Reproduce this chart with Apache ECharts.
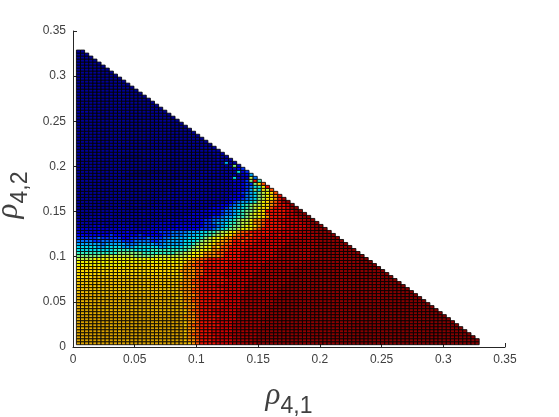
<!DOCTYPE html>
<html>
<head>
<meta charset="utf-8">
<style>html,body{margin:0;padding:0;background:#fff}#chart{width:559px;height:417px}</style>
<script src="https://cdn.jsdelivr.net/npm/echarts@6/dist/echarts.min.js"></script>
</head>
<body>
<div id="chart"></div>
<script>
// axis ticks
var tickStep = 0.05;
var axisMax = 0.35;

// heat cell grid: lower left corner of first cell, size of a cell
var cellStartX = 0.00275;
var cellStartY = 0.00255;
var cellSize = 0.00333;

// colour levels, a = lowest, y = highest
var levelNames = 'abcdefghijklmnopqrstuvwxy';
var levelColors = ['#000080','#000098','#0000aa','#0000cc','#0000f0','#0030ff','#0070ff','#00a8ff','#00dcf0','#30f0c0','#80f080','#c0f040','#f0f000','#ffdc00','#f4c400','#e8b000','#d8a000','#ff9000','#ff5000','#f01000','#d00000','#a80000','#900000','#880000','#5c0000'];

// one string per row, bottom row first. letter = level, number = how many cells in a run
var rowLevels = [
'q26porst4u4v6w20x34',
'q12pq13orrst3u5v5w21x34',
'q26prrst4u4v6w18x35',
'q26orsst3u4v7w22x30',
'q10pq15orrst3u5v6w24x27',
'p2q24prrst4u4v7w25x24',
'q8pq17orsst5u3v7w22x26',
'q26orrst4u4v8w24x22',
'pq24pprrst4u5v6w26x20',
'q12pq13rrrst5u4v7w24x20',
'p26orrst4u5v7w24x19',
'q5p21orsst3u6v8w23x18',
'p26rrrst5u5v6w26x15',
'p26orrst6u4v8w24x14',
'p26rrsst4u6v8w26x11',
'p24o2rrsst5u5v7w27x10',
'p12op13rrrst6u4v9w26x8',
'o26rrsst5u6v8w25x8',
'o25rrrsst6u5v8w24x8',
'o26rrrst4u7v9w22x8',
'o25rrrsst6u6v9w22x6',
'o26rrsst7u5v10w20x6',
'n4o22rrrst6u7v9w19x6',
'n26rrrsst4u8v9w18x6',
'n25rrrrsst5u8v9w18x4',
'n26rrrsst6u8v8w17x4',
'm12n14rrsst7u8v10w15x3',
'm26nrrsst6u9v9w14x3',
'l4m21mnnrrsst8u7v10w12x2',
'k6l8k5l5l3m2n2r4stt3u9v10w9x2',
'j10k6j8k2l2m2nr3s2t4u8v9w12',
'i9j5i4j6j3kl2m2nr2s2t4u8v9w10',
'i5h2i4h3i6h2i2i2j2kl2m2rnsstt4u8v9w8',
'h6gh5g3h4g2h3h2i2jkl2mnr2s2t5u8v8w7',
'g4f2g5f3g4f2g2h2h2i2ijkllmnrrsttst3u8v7w6',
'f5gf5e2f4gf3g2hh3i2ijklm2nr2sstst3u7v6w6',
'e8fe6fe5f2gg2h2hiijjkllmnrs2tst4u2tu5v4w4',
'd5ed6ed4e3f2fgg2gh2hiijjkl2mnrsst5u6v4w5',
'd22e8f3ghijkklm2nrst5u5v3w3',
'c4d3c3d4c4d2d4e6ef3ghijk2lm2nrst5u5v2w2',
'c20d10ef2gh2ij2kl2mr2st4u5v2w2',
'c22d8ef2g2h2ijkl2mrrst3u5v2w2',
'b3c6b2c11c4d6effghhijjkllmnrt4u3vw2',
'b5c4b3c5b2c3c6d5e2fg2hijklmn2st4u2vw2',
'b8cb6c7c8d2e3fg2hijk2lmnt5u2w2',
'b10c2b5c5c10de2efghhijklmn2st3uw2',
'b14c2b3c3c12deefghijkllmnrst2uw',
'b22c14defgh2ijlmnrstvw',
'b20c17de2fghiklnmrtv',
'b22c15d2e2ghiklmnrt',
'b22c16defghiklmns',
'b22c16d2efhkinls',
'b24c14d2efgijmt',
'b24c14d2effkns',
'b24c14d3fktj',
'b28c10id3lg',
'b12a6b12c10deh',
'b14a8b8c9ief',
'b32c6def',
'b32c6kd',
'b32c4hc2',
'b34c4',
'b10a6b18c3',
'b33c3',
'b32c3',
'b30c4',
'b33',
'b32',
'b31','b30','b29','b28','b27',
'b26','b25','b24','b23','c3b19','b21','b20','b19','b18','b17','b16','b15','b14','b13','b12','b11','b10','b9','b8','b7','b6','b5','b4','b3','b2'
];

var cellData = [];
for (var r = 0; r < rowLevels.length; r++) {
	var runs = rowLevels[r].match(/[a-z]\d*/g);
	var col = 0;
	for (var k = 0; k < runs.length; k++) {
		var level = levelNames.indexOf(runs[k].charAt(0));
		var count = runs[k].length > 1 ? parseInt(runs[k].substring(1)) : 1;
		for (var c = 0; c < count; c++) {
			cellData.push([cellStartX + col * cellSize, cellStartY + r * cellSize, level]);
			col++;
		}
	}
}

function renderCell(params, api) {
	var p0 = api.coord([api.value(0), api.value(1)]);
	var p1 = api.coord([api.value(0) + cellSize, api.value(1) + cellSize]);
	return {
		type: 'rect',
		shape: {x: p0[0], y: p1[1], width: p1[0] - p0[0], height: p0[1] - p1[1]},
		style: {fill: levelColors[api.value(2)], stroke: '#000', lineWidth: 0.85}
	};
}

var myChart = echarts.init(document.getElementById('chart'));

var tickFont = {color: '#404040', fontSize: 12, fontFamily: 'Liberation Sans', margin: 7};
// rho sits high, the index hangs below it
var nameRich = {
	r: {fontSize: 31, fontFamily: 'Liberation Serif', fontStyle: 'italic', color: '#404040', verticalAlign: 'top'},
	s: {fontSize: 23, fontFamily: 'Liberation Sans', color: '#404040', verticalAlign: 'bottom', padding: [15, 0, 0, 0]}
};

var option = {
	animation: false,
	backgroundColor: '#fff',
	grid: {left: 73, right: 54, top: 31, bottom: 70, outerBoundsMode: 'none'},
	xAxis: {
		type: 'value', min: 0, max: axisMax, interval: tickStep,
		splitLine: {show: false},
		axisLine: {show: true, onZero: false, lineStyle: {color: '#262626', width: 1}},
		axisTick: {show: true, inside: true, length: 4, lineStyle: {color: '#262626'}},
		axisLabel: tickFont,
		name: '{r|ρ}{s|4,1}',
		nameLocation: 'middle',
		nameGap: 33,
		nameTextStyle: {rich: nameRich}
	},
	yAxis: {
		type: 'value', min: 0, max: axisMax, interval: tickStep,
		splitLine: {show: false},
		axisLine: {show: true, onZero: false, lineStyle: {color: '#262626', width: 1}},
		axisTick: {show: true, inside: true, length: 4, lineStyle: {color: '#262626'}},
		axisLabel: tickFont,
		name: '{r|ρ}{s|4,2}',
		nameLocation: 'middle',
		nameGap: 27,
		nameTextStyle: {rich: nameRich, padding: [0, 12, 0, 0]}
	},
	series: [{
		type: 'custom',
		coordinateSystem: 'cartesian2d',
		renderItem: renderCell,
		data: cellData,
		clip: false,
		progressive: 0,
		encode: {x: 0, y: 1}
	}]
};
myChart.setOption(option, true);
</script>
</body>
</html>
